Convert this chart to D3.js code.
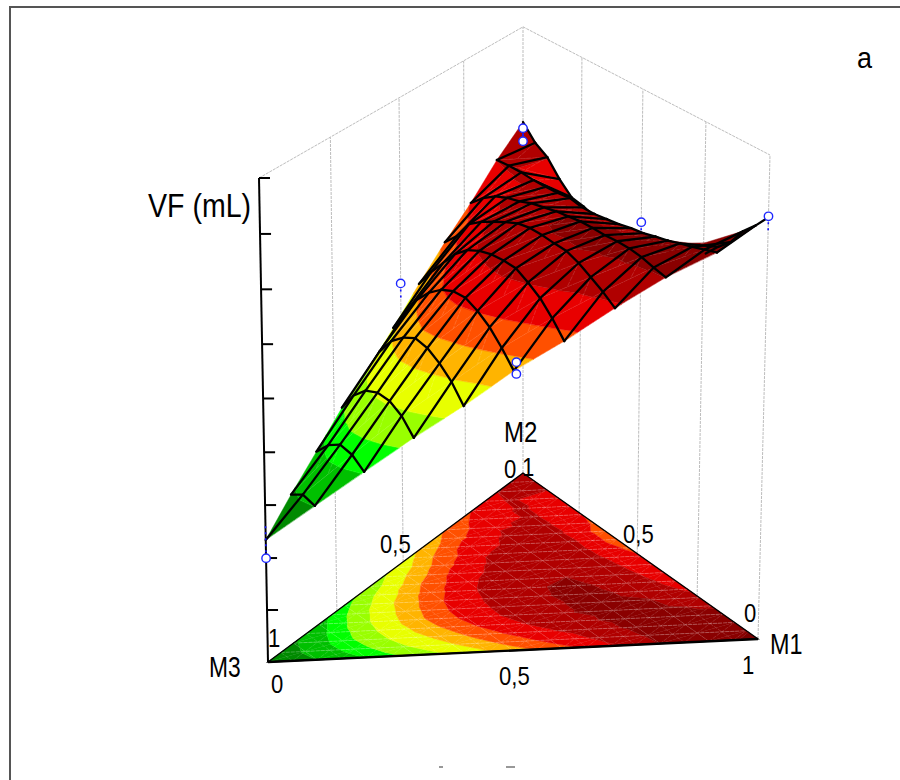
<!DOCTYPE html>
<html><head><meta charset="utf-8">
<script src="https://cdn.jsdelivr.net/npm/d3@7/dist/d3.min.js"></script>
<style>html,body{margin:0;padding:0;background:#fff}svg{display:block}text{font-family:"Liberation Sans",Arial,sans-serif;fill:#000}</style>
</head><body><svg id="c" width="900" height="780"></svg>
<script>
// VF response surface: each row is one line of constant M1+M2 = k/10, from the M2-M3 edge to the M1-M3 edge
const row0=[2.27];
const row1=[2.77,2.92,2.86];
const row2=[3.23,3.50,3.66,3.62,3.45];
const row3=[3.71,4.09,4.33,4.44,4.43,4.30,4.04];
const row4=[4.07,4.57,4.92,5.13,5.27,5.23,5.09,4.89,4.59];
const row5=[4.53,4.96,5.36,5.64,5.84,5.96,5.98,5.88,5.72,5.48,5.20];
const row6=[5.02,5.39,5.71,6.03,6.25,6.38,6.46,6.49,6.49,6.37,6.22,5.99,5.71];
const row7=[5.47,5.74,6.11,6.30,6.45,6.59,6.71,6.77,6.78,6.77,6.77,6.69,6.57,6.44,6.28];
const row8=[5.88,6.12,6.30,6.42,6.50,6.61,6.68,6.75,6.80,6.85,6.87,6.88,6.91,6.92,6.90,6.85,6.81];
const row9=[6.36,6.40,6.42,6.42,6.44,6.47,6.52,6.49,6.51,6.56,6.61,6.68,6.73,6.81,6.88,6.97,7.05,7.14,7.23];
const row10=[6.75,6.50,6.37,6.10,5.90,5.87,5.80,5.60,5.60,5.75,5.90,5.97,6.05,6.15,6.28,6.45,6.72,6.95,7.30,7.55,7.84];
const rows=[row0,row1,row2,row3,row4,row5,row6,row7,row8,row9,row10];

const levels=[2.85,3.42,3.87,4.38,4.93,5.40,5.86,6.35,6.80,7.60];
const bandColors=["#008a00","#00c000","#00ff00","#99ff00","#e8ff00","#ffb400","#ff5000","#e80000","#b00000","#8a0000","#7a0000"];

// experimental design points: M1, M2, measured VF, end of the residual bar
const ptM1=[0,0,0,.486,.505,.505,0,1];
const ptM2=[1,1,.53,.514,0,0,0,0];
const ptVF=[6.63,6.38,5.27,6.27,5.36,5.14,1.93,7.86];
const ptFit=[6.40,6.60,4.99,6.05,5.25,5.25,2.60,7.58];

const axisTicks=[0,.967,1.933,2.918,3.9,4.9,5.91,6.93,7.96,9];
const leftWallV=[.27,.53,.775,1];
const rightWallV=[.761,.514,.259,0];
const meshSteps=d3.range(1,20).map(d=>d/20);

const frame={base:[[268,662],[758,639],[523,473]],top:[[259,178],[770,155],[523,5]]};
const zFrac=d3.scaleLinear().domain([0,9]).range([0,1]);
const roofZ=v=>9-.42*v;

function project(u,v,z){
  const w=1-u-v;
  const bx=w*frame.base[0][0]+u*frame.base[1][0]+v*frame.base[2][0];
  const by=w*frame.base[0][1]+u*frame.base[1][1]+v*frame.base[2][1];
  const tx=w*frame.top[0][0]+u*frame.top[1][0]+v*frame.top[2][0];
  const ty=w*frame.top[0][1]+u*frame.top[1][1]+v*frame.top[2][1];
  const f=zFrac(z);
  return [bx+(tx-bx)*f,by+(ty-by)*f];
}
const depth=(u,v)=>project(u,v,0)[1];
const svg=d3.select("#c");
const line=d3.line();
const closed=pts=>line(pts)+"Z";

// cage
svg.append("path").attr("d","M10,780V7H900").attr("fill","none").attr("stroke","#555").attr("stroke-width",2);
const wall=svg.append("g").attr("fill","none").attr("stroke","#bdbdbd").attr("stroke-dasharray","3 1");
wall.append("path").attr("d",line([project(0,0,9),project(0,1,roofZ(1)),project(1,0,9)]));
const wallFeet=[...leftWallV.map(v=>[0,v]),...rightWallV.map(v=>[1-v,v])];
wall.selectAll("path.v").data(wallFeet).join("path").attr("class","v")
  .attr("d",d=>{const r=roofZ(d[1]);const t=project(d[0],d[1],r);return line([project(d[0],d[1],0),[t[0],t[1]]]);});

// lattice
const node=(k,i)=>({u:i*.05,v:k/10-i*.05,z:rows[k][i]});
const tris=[];
for(let k=0;k<10;k++){
  for(let i=0;i<=2*k;i++){
    if(i<2*k){
      tris.push([node(k,i),node(k,i+1),node(k+1,i+2)]);
      tris.push([node(k,i),node(k+1,i+2),node(k+1,i+1)]);
    }
  }
  tris.push([node(k,0),node(k+1,0),node(k+1,1)]);
  tris.push([node(k,2*k),node(k+1,2*k+1),node(k+1,2*k+2)]);
}
function clipBand(poly,lo,hi){
  const clip=(pts,keep,lim)=>{
    const out=[];
    pts.forEach((a,n)=>{
      const b=pts[(n+1)%pts.length];
      const ka=keep(a.z),kb=keep(b.z);
      if(ka)out.push(a);
      if(ka!==kb){
        const t=(lim-a.z)/(b.z-a.z);
        out.push({u:a.u+(b.u-a.u)*t,v:a.v+(b.v-a.v)*t,z:lim});
      }
    });
    return out;
  };
  let r=poly;
  if(lo>-Infinity)r=clip(r,z=>z>=lo,lo);
  if(r.length&&hi<Infinity)r=clip(r,z=>z<hi,hi);
  return r;
}
const edges=[-Infinity,...levels,Infinity];
function bandsOf(t){
  const out=[];
  bandColors.forEach((c,b)=>{
    const p=clipBand(t,edges[b],edges[b+1]);
    if(p.length>2)out.push({p,c});
  });
  return out;
}
// floor contour map
const baseItems=[];
tris.forEach(t=>bandsOf(t).forEach(b=>baseItems.push({d:closed(b.p.map(q=>project(q.u,q.v,0))),c:b.c})));
svg.append("g").selectAll("path").data(baseItems).join("path")
  .attr("d",d=>d.d).attr("fill",d=>d.c).attr("stroke",d=>d.c).attr("stroke-width",.4);

// floor mesh
const floorMesh=[];
meshSteps.forEach(s=>{
  floorMesh.push({a:[s,0],b:[s,1-s],o:.2});
  floorMesh.push({a:[0,s],b:[1-s,s],o:.33});
  floorMesh.push({a:[s,0],b:[0,s],o:.2});
});
svg.append("g").selectAll("path").data(floorMesh).join("path")
  .attr("d",d=>line([project(d.a[0],d.a[1],0),project(d.b[0],d.b[1],0)]))
  .attr("stroke","#fff").attr("stroke-opacity",d=>d.o).attr("stroke-width",.8).attr("stroke-dasharray","4 1").attr("fill","none");

// floor outline
svg.append("path").attr("d",closed([project(0,0,0),project(1,0,0),project(0,1,0)])).attr("fill","none").attr("stroke","#000").attr("stroke-width",1.3);
svg.append("path").attr("d",line([project(0,0,0),project(1,0,0)])).attr("stroke","#000").attr("stroke-width",2.4);

// VF axis
const tickG=svg.append("g").attr("stroke","#000").attr("stroke-width",2).attr("fill","none");
tickG.append("path").attr("d",line([project(0,0,0),project(0,0,9)]));
tickG.selectAll("path.t").data(axisTicks.slice(1)).join("path").attr("class","t")
  .attr("d",z=>{const p=project(0,0,z);return line([p,[p[0]+11,p[1]]]);});

// surface painted back to front
const items=[];
tris.forEach(t=>{
  const cu=d3.mean(t,q=>q.u),cv=d3.mean(t,q=>q.v);
  const pr=t.map(q=>project(q.u,q.v,q.z));
  const area=(pr[1][0]-pr[0][0])*(pr[2][1]-pr[0][1])-(pr[2][0]-pr[0][0])*(pr[1][1]-pr[0][1]);
  const baseP=t.map(q=>project(q.u,q.v,0));
  const areaB=(baseP[1][0]-baseP[0][0])*(baseP[2][1]-baseP[0][1])-(baseP[2][0]-baseP[0][0])*(baseP[1][1]-baseP[0][1]);
  const dz=depth(cu,cv);
  if(area*areaB<0){
    items.push({key:dz,d:closed(pr),fill:"#d9d9d9",stroke:"#d9d9d9",w:.4});
  }else bandsOf(t).forEach(b=>items.push({key:dz,d:closed(b.p.map(q=>project(q.u,q.v,q.z))),fill:b.c,stroke:b.c,w:.4}));
});
const seg=(a,b,stroke,w,dash,op,eps)=>({key:(depth(a.u,a.v)+depth(b.u,b.v))/2+eps,
  d:line([project(a.u,a.v,a.z),project(b.u,b.v,b.z)]),fill:"none",stroke,w,dash,op});
// black wires close to M1 graze the view and stay on top
const wireEps=(a,b)=>(a.u+b.u)/2>.75?60:8;
for(let k=0;k<10;k++){
  for(let i=0;i<=2*k;i++){
    items.push(seg(node(k,i),node(k+1,i+2),"#fff",.7,"4 2",.28,1));
    if(i>0)items.push(seg(node(k,i),node(k+1,i),"#fff",.7,"4 2",.22,1));
  }
}
for(let k=0;k<10;k++){
  for(let i=0;i<=2*k;i++){const a=node(k,i),b=node(k+1,i+1);items.push(seg(a,b,"#000",2.3,null,1,wireEps(a,b)));}
}
for(let k=1;k<=10;k++){
  for(let i=0;i<2*k;i++){const a=node(k,i),b=node(k,i+1);items.push(seg(a,b,"#000",2.3,null,1,wireEps(a,b)));}
}
items.sort((a,b)=>a.key-b.key);
svg.append("g").selectAll("path").data(items).join("path")
  .attr("d",d=>d.d).attr("fill",d=>d.fill).attr("stroke",d=>d.stroke).attr("stroke-width",d=>d.w)
  .attr("stroke-dasharray",d=>d.dash||null).attr("stroke-opacity",d=>d.op==null?1:d.op)
  .attr("stroke-linecap","round").attr("stroke-linejoin","round");

// design points
const ptIdx=d3.range(ptVF.length);
svg.append("g").selectAll("path").data(ptIdx).join("path")
  .attr("d",i=>line([project(ptM1[i],ptM2[i],ptVF[i]),project(ptM1[i],ptM2[i],ptFit[i])]))
  .attr("stroke","#1414ff").attr("stroke-width",1.6).attr("stroke-dasharray","2 4").attr("fill","none");
svg.append("g").selectAll("circle").data(ptIdx).join("circle")
  .attr("cx",i=>project(ptM1[i],ptM2[i],ptVF[i])[0]).attr("cy",i=>project(ptM1[i],ptM2[i],ptVF[i])[1])
  .attr("r",4.2).attr("fill","#fff").attr("stroke","#1e28ff").attr("stroke-width",1.4);

// text
const labels=[
 ["VF (mL)",148,217,33,.865],["a",857,68,30,.9],["M2",504,442,30,.8],
 ["0",504,478,26,.85],["1",522,476,26,.85],
 ["0,5",380,553,26,.85],["0,5",623,543,26,.85],["0,5",499,685,26,.85],
 ["0",744,622,26,.85],["M1",770,654,30,.78],["1",742,674,26,.85],
 ["M3",209,677,30,.76],["0",271,693,26,.85],["1",268,647,26,.85]
];
svg.append("g").selectAll("text").data(labels).join("text").text(d=>d[0])
  .attr("font-size",d=>d[3]).attr("transform",d=>`translate(${d[1]},${d[2]}) scale(${d[4]},1)`);
// tops of clipped caption letters at the lower edge
svg.append("path").attr("d","M439,767H443M506,767H515").attr("stroke","#333").attr("stroke-width",1.2);
</script></body></html>
